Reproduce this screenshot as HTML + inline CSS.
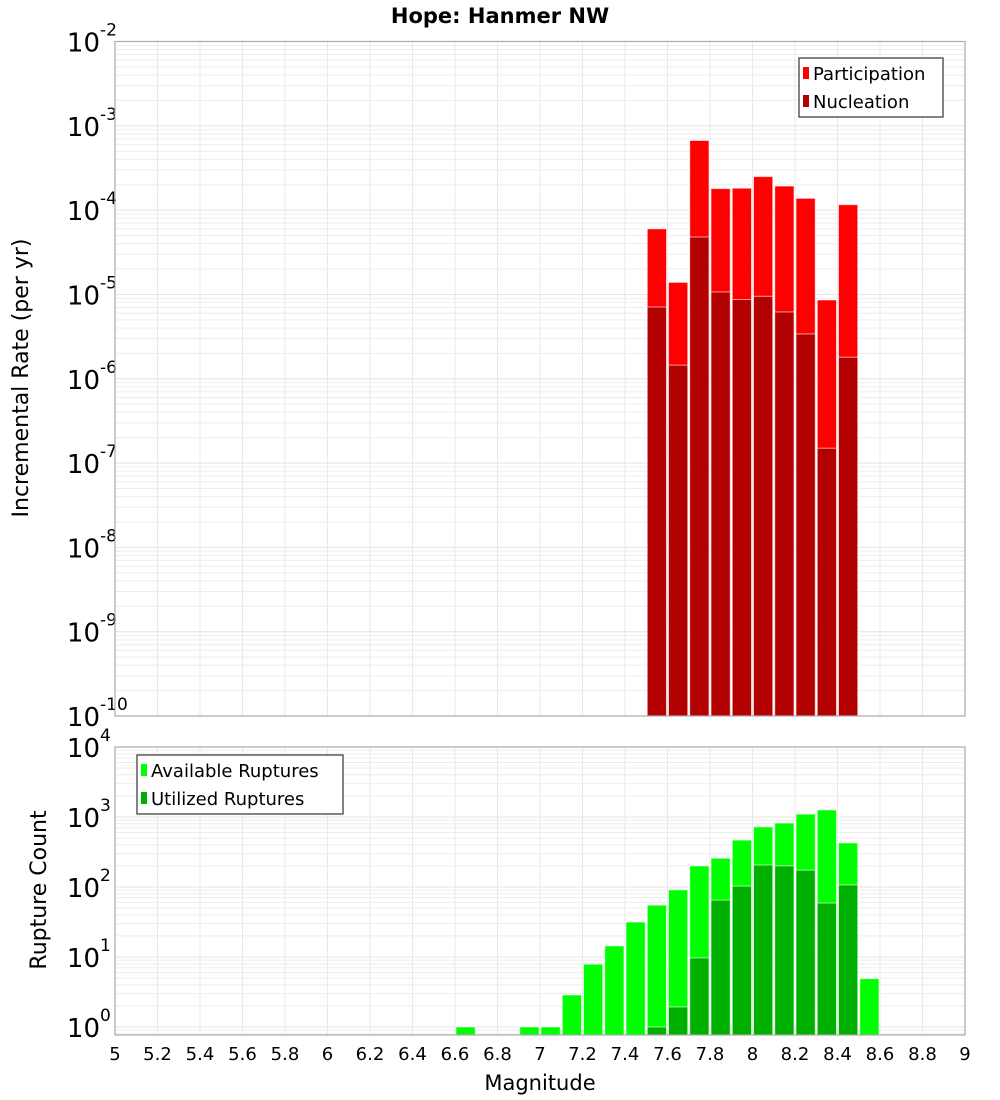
<!DOCTYPE html>
<html><head><meta charset="utf-8"><style>
body{margin:0;background:#fff;}
svg{display:block;font-family:"DejaVu Sans","Liberation Sans",sans-serif;}
</style></head><body>
<svg id="chart" width="1000" height="1100" viewBox="0 0 1000 1100" xmlns="http://www.w3.org/2000/svg">
<text x="500" y="23" text-anchor="middle" font-size="21" font-weight="bold">Hope: Hanmer NW</text>
<g id="top"></g>
<g id="bot"></g>
<text x="540" y="1090" text-anchor="middle" font-size="21">Magnitude</text>
<text transform="translate(28,378) rotate(-90)" text-anchor="middle" font-size="22">Incremental Rate (per yr)</text>
<text transform="translate(46,890) rotate(-90)" text-anchor="middle" font-size="22">Rupture Count</text>
</svg>
<script>
const mags = [6.6,6.9,7.0,7.1,7.2,7.3,7.4,7.5,7.6,7.7,7.8,7.9,8.0,8.1,8.2,8.3,8.4,8.5];
const available = [1,1,1,2.87,7.9,14.4,31.6,55,91,200,258,468,724,820,1100,1260,426,4.9];
const utilMags = [7.5,7.6,7.7,7.8,7.9,8.0,8.1,8.2,8.3,8.4];
const utilized = [1,1.93,9.7,65,103,206,200,174,59,107];
const rateMags = [7.5,7.6,7.7,7.8,7.9,8.0,8.1,8.2,8.3,8.4];
const participation = [6.0e-5,1.39e-5,6.7e-4,1.8e-4,1.82e-4,2.5e-4,1.93e-4,1.38e-4,8.6e-6,1.16e-4];
const nucleation = [7.1e-6,1.45e-6,4.8e-5,1.07e-5,8.7e-6,9.5e-6,6.2e-6,3.4e-6,1.5e-7,1.8e-6];
const xTicks = [5,5.2,5.4,5.6,5.8,6,6.2,6.4,6.6,6.8,7,7.2,7.4,7.6,7.8,8,8.2,8.4,8.6,8.8,9];
const topDecades = [-10,-9,-8,-7,-6,-5,-4,-3,-2];
const botDecades = [0,1,2,3,4];

const NS='http://www.w3.org/2000/svg';
const X0=115,X1=965;
const xs=m=>X0+(m-5)/4*(X1-X0);
function mk(tag,attrs,parent,txt){const e=document.createElementNS(NS,tag);for(const k in attrs)e.setAttribute(k,attrs[k]);if(txt!==undefined)e.textContent=txt;parent.appendChild(e);return e;}

function panel(g,top,bot,lmin,lmax,decades,name){
  const ys=v=>bot-(Math.log10(v)-lmin)/(lmax-lmin)*(bot-top);
  const bg=mk('rect',{x:X0,y:top,width:X1-X0,height:bot-top,fill:'#fff'},g);
  
  
  // minor grid
  for(let d=Math.floor(lmin);d<Math.ceil(lmax);d++){
    for(let k=1;k<10;k++){const v=k*Math.pow(10,d);const lv=Math.log10(v);if(lv<lmin||lv>lmax)continue;
      const y=ys(v);const l=mk('line',{x1:X0,x2:X1,y1:y,y2:y,stroke:k==1?'#e4e4e4':'#ededed','stroke-width':1},g);
      
      }
  }
  for(let i=0;i<=40;i+=2){const x=xs(5+i*0.1);const l=mk('line',{x1:x,x2:x,y1:top,y2:bot,stroke:'#e8e8e8','stroke-width':1},g);
    
    }
  decades.forEach(d=>{const y=ys(Math.pow(10,d));
    const t=mk('text',{x:100,y:y+10,'text-anchor':'end','font-size':26},g,'10');
    
    
    const s=mk('text',{x:100,y:y-6,'font-size':17},g,String(d).replace('-','-'));
    
    });
  return ys;
}
function bars(g,ys,bot,ms,vals,color,name){
  ms.forEach((m,i)=>{const x=xs(m)+1,w=xs(m+0.1)-xs(m)-2;const y=ys(vals[i]);
    const r=mk('rect',{x:x,y:y,width:w,height:bot-y,fill:color,stroke:'#fff','stroke-opacity':0.6,'stroke-width':1},g);
    
    });
}
function frame(g,top,bot,name){const f=mk('rect',{x:X0,y:top,width:X1-X0,height:bot-top,fill:'none',stroke:'#aaa','stroke-width':1.2},g);
  
  }
function legend(g,x,y,w,items,name){
  const b=mk('rect',{x:x,y:y,width:w,height:59,fill:'#fff',stroke:'#333','stroke-width':1.2},g);
  
  
  items.forEach((it,i)=>{const yy=y+15+i*28;
    const s=mk('rect',{x:x+4,y:yy-6,width:6,height:12,fill:it[1]},g);
    
    
    const t=mk('text',{x:x+14,y:yy+7,'font-size':18},g,it[0]);
    
    });
}
const gt=document.getElementById('top'),gb=document.getElementById('bot');
const T0=41.5,T1=716;
const ysT=panel(gt,T0,T1,-10,-2,topDecades,'rate');
bars(gt,ysT,T1,rateMags,participation,'#ff0000','participation');
bars(gt,ysT,T1,rateMags,nucleation,'#b30000','nucleation');
frame(gt,T0,T1,'rate');
legend(gt,799,58,144,[['Participation','#ff0000'],['Nucleation','#b30000']],'rate');

const B0=747,B1=1035;
const lminB=-(B1-1027)/70, lmaxB=(1027-B0)/70;
const ysB=panel(gb,B0,B1,lminB,lmaxB,botDecades,'count');
bars(gb,ysB,B1,mags,available,'#00ff00','available');
bars(gb,ysB,B1,utilMags,utilized,'#00b000','utilized');
frame(gb,B0,B1,'count');
legend(gb,137,755,206,[['Available Ruptures','#00ff00'],['Utilized Ruptures','#00b000']],'count');

const svg=document.getElementById('chart');
xTicks.forEach(m=>{const t=mk('text',{x:xs(m),y:1060,'text-anchor':'middle','font-size':18},svg,String(m));
  
  });
</script>
</body></html>
